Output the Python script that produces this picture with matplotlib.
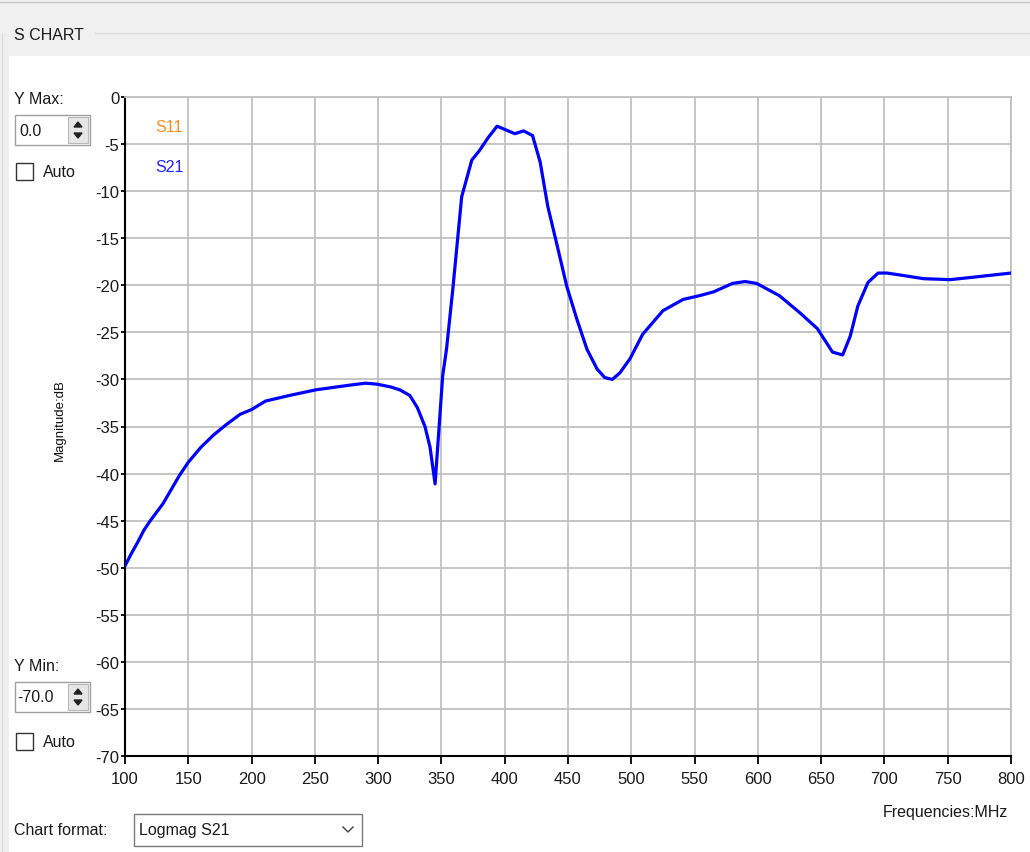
import matplotlib
matplotlib.use("Agg")
import matplotlib.pyplot as plt
from matplotlib.patches import Rectangle, Polygon
from matplotlib.lines import Line2D

plt.rcParams['font.family'] = ['Liberation Sans', 'DejaVu Sans']
plt.rcParams['axes.unicode_minus'] = False

# S21 trace (MHz, dB)
freq = [100, 105, 110, 115, 120, 130, 143, 150, 160, 170, 180, 191, 200, 211,
        230, 251, 278, 290, 299, 310, 317, 325, 331, 337, 341, 345, 351, 354,
        359, 366, 374, 380, 387, 394, 401, 408, 415, 422, 428, 434, 442, 449,
        457, 465, 473, 479, 485, 491, 499, 509, 525, 541, 554, 565, 580, 590,
        599, 617, 633, 647, 659, 667, 673, 679, 687, 695, 702, 712, 731, 752,
        773, 800]
s21 = [-49.8, -48.5, -47.3, -46.0, -45.0, -43.2, -40.2, -38.8, -37.2, -35.9,
       -34.8, -33.7, -33.2, -32.3, -31.7, -31.1, -30.6, -30.4, -30.5, -30.8,
       -31.1, -31.7, -33.0, -35.0, -37.2, -41.1, -29.6, -26.8, -20.4, -10.6,
       -6.7, -5.7, -4.3, -3.1, -3.5, -3.9, -3.6, -4.1, -6.9, -11.6, -16.1,
       -20.1, -23.6, -26.8, -28.9, -29.8, -30.0, -29.3, -27.8, -25.2, -22.7,
       -21.5, -21.1, -20.7, -19.8, -19.6, -19.8, -21.1, -22.9, -24.6, -27.1,
       -27.4, -25.4, -22.2, -19.7, -18.7, -18.7, -18.9, -19.3, -19.4, -19.1,
       -18.7]

x_ticks = list(range(100, 801, 50))
y_ticks = list(range(0, -71, -5))

W, H = 1030, 853
fig = plt.figure(figsize=(W / 100, H / 100), dpi=100)
fig.patch.set_facecolor('white')


def fx(x):
    return x / W


def fy(y):
    return 1 - y / H


def rect(x0, y0, x1, y1, fc='none', ec='none', lw=1.0, z=0):
    fig.patches.append(Rectangle((fx(x0), fy(y1)), fx(x1) - fx(x0), fy(y0) - fy(y1),
                                 transform=fig.transFigure, facecolor=fc,
                                 edgecolor=ec, linewidth=lw, zorder=z))


def hline(x0, x1, y, color, lw=1.0):
    fig.lines.append(Line2D([fx(x0), fx(x1)], [fy(y), fy(y)], transform=fig.transFigure,
                            color=color, linewidth=lw))


def vline(x, y0, y1, color, lw=1.0):
    fig.lines.append(Line2D([fx(x), fx(x)], [fy(y0), fy(y1)], transform=fig.transFigure,
                            color=color, linewidth=lw))


def label(x, y, s, size=11.5, color='#1a1a1a', **kw):
    fig.text(fx(x), fy(y), s, fontsize=size, color=color, va='center', **kw)


def arrows(yc):
    # little up/down glyphs of a spin box
    fig.patches.append(Polygon([[fx(74), fy(yc - 3)], [fx(82), fy(yc - 3)], [fx(78), fy(yc - 8)]],
                               transform=fig.transFigure, color='#202020'))
    fig.patches.append(Polygon([[fx(74), fy(yc + 3)], [fx(82), fy(yc + 3)], [fx(78), fy(yc + 8)]],
                               transform=fig.transFigure, color='#202020'))


# window chrome
rect(0, 0, W, 57, fc='#f0f0f0')
rect(0, 0, 9, H, fc='#f0f0f0')
hline(0, W, 3, '#c8c8c8', 1.0)
hline(95, W, 34, '#dcdcdc', 1.0)
vline(2, 34, H, '#dcdcdc', 1.0)
label(14, 35, 'S CHART', size=11.5)

# Y max controls
label(14, 100, 'Y Max:')
rect(15, 116, 90, 146, fc='white', ec='#a0a0a0', lw=1.0)
rect(68, 118, 88, 144, fc='#e6e6e6', ec='#b8b8b8', lw=0.8)
label(19, 131, '0.0')
arrows(131)
rect(16, 164, 33, 181, fc='white', ec='#333333', lw=1.0)
label(43, 173, 'Auto')

# Y min controls
label(14, 667, 'Y Min:')
rect(15, 683, 90, 713, fc='white', ec='#a0a0a0', lw=1.0)
rect(68, 685, 88, 711, fc='#e6e6e6', ec='#b8b8b8', lw=0.8)
label(17, 698, '-70.0')
arrows(698)
rect(16, 734, 33, 751, fc='white', ec='#333333', lw=1.0)
label(43, 743, 'Auto')

# chart format combo
label(14, 831, 'Chart format:')
rect(134, 815, 362, 847, fc='white', ec='#7a7a7a', lw=1.0)
label(139, 831, 'Logmag S21')
fig.lines.append(Line2D([fx(343), fx(348), fx(353)], [fy(828), fy(833), fy(828)],
                        transform=fig.transFigure, color='#404040', linewidth=1.0))

# plot area
ax = fig.add_axes([fx(125), fy(757), fx(1011) - fx(125), fy(98) - fy(757)])
ax.plot(freq, s21, color='#0000ff', linewidth=2.3, solid_joinstyle='round', zorder=3)
ax.set_xlim(100, 800)
ax.set_ylim(-70, 0)
ax.set_xticks(x_ticks)
ax.set_yticks(y_ticks)
ax.set_xticklabels([str(v) for v in x_ticks])
ax.set_yticklabels([str(v) for v in y_ticks])
ax.grid(True, color='#c0c0c0', linewidth=1.3)
ax.set_axisbelow(True)
for side in ['top', 'right']:
    ax.spines[side].set_color('#c0c0c0')
    ax.spines[side].set_linewidth(1.3)
for side in ['left', 'bottom']:
    ax.spines[side].set_color('black')
    ax.spines[side].set_linewidth(1.5)
ax.tick_params(axis='x', length=6, width=1.3, color='black', pad=5,
               labelsize=12, labelcolor='#1a1a1a')
ax.tick_params(axis='y', length=3, width=1.3, color='black', pad=1,
               labelsize=12, labelcolor='#1a1a1a')

label(155, 127, 'S11', color='#ff8c1a')
label(155, 167, 'S21', color='#2020ff')
fig.text(fx(60), fy(420), 'Magnitude:dB', rotation=90, fontsize=9.5, color='#111111',
         ha='center', va='center', fontweight='medium')
fig.text(fx(1008), fy(813), 'Frequencies:MHz', fontsize=11.5, color='#1a1a1a',
         ha='right', va='center')

fig.savefig('out.png', dpi=100, facecolor=fig.get_facecolor())
